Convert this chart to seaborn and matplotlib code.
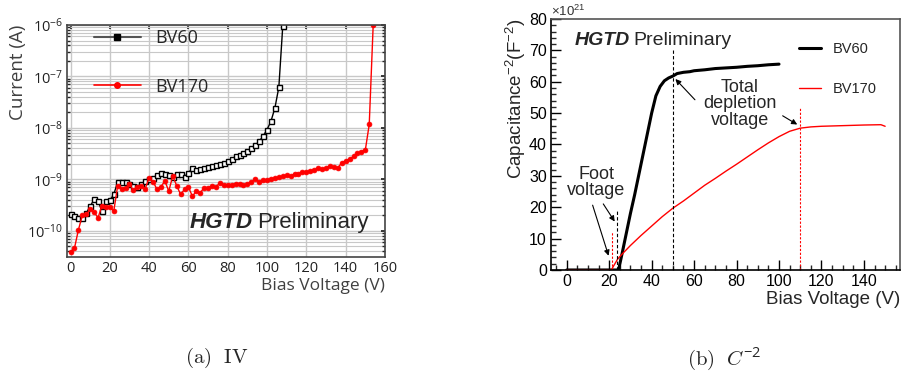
import matplotlib
matplotlib.use("Agg")
import matplotlib.pyplot as plt
from matplotlib.lines import Line2D
import numpy as np
import pandas as pd
import seaborn as sns

# IV data, step 2 V
bv60_iv_v = list(range(0, 110, 2))
bv60_iv_i = [2.1e-10, 1.9e-10, 1.8e-10, 1.75e-10, 2.2e-10, 3.0e-10, 4.1e-10, 3.8e-10, 2.4e-10, 3.8e-10,
             3.9e-10, 5.1e-10, 9.0e-10, 8.9e-10, 8.7e-10, 8.2e-10, 7.6e-10, 7.2e-10, 8.0e-10, 9.3e-10,
             1.0e-9, 1.08e-9, 1.2e-9, 1.35e-9, 1.3e-9, 1.2e-9, 1.12e-9, 1.25e-9, 1.25e-9, 1.12e-9,
             1.35e-9, 1.63e-9, 1.5e-9, 1.6e-9, 1.65e-9, 1.76e-9, 1.8e-9, 1.93e-9, 1.98e-9, 2.1e-9,
             2.3e-9, 2.5e-9, 2.8e-9, 3.0e-9, 3.3e-9, 3.55e-9, 4.0e-9, 4.6e-9, 5.5e-9, 6.9e-9,
             9.3e-9, 1.35e-8, 2.45e-8, 6.2e-8, 9.6e-7]
bv170_iv_v = list(range(0, 156, 2))
bv170_iv_i = [3.9e-11, 4.6e-11, 1.04e-10, 2.0e-10, 2.1e-10, 2.6e-10, 2.3e-10, 1.8e-10, 3.1e-10, 2.9e-10,
              2.9e-10, 2.4e-10, 7.6e-10, 6.6e-10, 6.9e-10, 8.0e-10, 6.1e-10, 7.2e-10, 7.4e-10, 6.6e-10,
              1.08e-9, 9.0e-10, 6.4e-10, 7.2e-10, 9.3e-10, 5.9e-10, 1.16e-9, 7.6e-10, 5.1e-10, 6.4e-10,
              7.1e-10, 4.7e-10, 5.9e-10, 5.5e-10, 6.9e-10, 6.9e-10, 7.4e-10, 7.1e-10, 8.6e-10, 7.8e-10,
              7.9e-10, 7.9e-10, 8.2e-10, 8.0e-10, 7.8e-10, 8.0e-10, 9.0e-10, 1.0e-9, 9.0e-10, 9.7e-10,
              9.7e-10, 1.03e-9, 1.06e-9, 1.1e-9, 1.14e-9, 1.2e-9, 1.15e-9, 1.29e-9, 1.3e-9, 1.39e-9,
              1.41e-9, 1.47e-9, 1.54e-9, 1.63e-9, 1.59e-9, 1.68e-9, 1.79e-9, 1.74e-9, 1.68e-9, 2.1e-9,
              2.3e-9, 2.5e-9, 2.8e-9, 3.2e-9, 3.45e-9, 3.7e-9, 1.17e-8, 9.8e-7]

# C^-2 data (units of 1e21 F^-2)
bv60_cv_v = [0, 5, 10, 15, 20, 24, 24.5, 26, 28, 30, 32, 34, 36, 38, 40, 42, 44, 46, 48, 50,
             52, 55, 58, 60, 65, 70, 75, 80, 85, 90, 95, 100]
bv60_cv_c = [0, 0, 0, 0, 0, 0, 0.3, 5, 11.5, 18, 24, 30.5, 37, 43.5, 50, 55.5, 58.5, 60.3, 61.2, 61.8,
             62.6, 63.0, 63.2, 63.5, 63.8, 64.2, 64.4, 64.6, 64.9, 65.1, 65.4, 65.6]
bv170_cv_v = [0, 5, 10, 15, 20, 21, 22, 24, 26, 30, 35, 40, 45, 50, 55, 60, 65, 70, 75, 80, 85, 90,
              95, 100, 105, 110, 115, 120, 130, 140, 148, 150]
bv170_cv_c = [0, 0, 0, 0, 0, 0, 1.2, 3.5, 5.0, 7.8, 11.0, 14.0, 17.0, 19.7, 22.0, 24.5, 27.0, 29.2,
              31.5, 33.7, 36.0, 38.3, 40.5, 42.5, 44.2, 45.2, 45.6, 45.8, 46.0, 46.2, 46.3, 45.8]

sns.set_theme(style="white")
plt.rcParams['font.family'] = ['Open Sans', 'DejaVu Sans']
plt.rcParams['mathtext.default'] = 'regular'

fig = plt.figure(figsize=(9.09, 3.91), dpi=100)

# ---------------- (a) IV ----------------
ax1 = fig.add_axes([0.0737, 0.3427, 0.3498, 0.5933])
ax1.set_yscale("log")
iv60 = pd.DataFrame({"v": bv60_iv_v, "i": bv60_iv_i})
iv170 = pd.DataFrame({"v": bv170_iv_v, "i": bv170_iv_i})
sns.lineplot(data=iv60, x="v", y="i", ax=ax1, color="black", lw=1.0, marker="s", markersize=3.6,
             markerfacecolor="white", markeredgecolor="black", markeredgewidth=1.0, legend=False)
sns.lineplot(data=iv170, x="v", y="i", ax=ax1, color="red", lw=1.0, marker="o", markersize=3.5,
             markeredgecolor="red", markeredgewidth=0.5, legend=False)
ax1.set_xlim(-1.8, 160)
ax1.set_ylim(3.1e-11, 1e-6)
ax1.set_xticks(range(0, 161, 20))
ax1.grid(True, which="major", color="#c8c8c8", lw=1.0)
ax1.grid(True, which="minor", axis="y", color="#c8c8c8", lw=0.8)
ax1.tick_params(axis="both", which="major", labelsize=10.5, colors="#222222", length=3, direction="in",
                top=True, right=True, pad=3)
ax1.tick_params(axis="y", which="minor", length=2, direction="in", right=True, left=True)
for s in ax1.spines.values():
    s.set_color("#444444")
    s.set_linewidth(1.2)
ax1.set_xlabel("Bias Voltage (V)", fontsize=12.5, color="#404040", loc="right", labelpad=1)
ax1.set_ylabel("Current (A)", fontsize=13.5, color="#404040", loc="top", labelpad=0)
handles = [Line2D([0], [0], color="#555555", lw=1.5, marker="s", markersize=4.5,
                  markerfacecolor="black", markeredgecolor="black"),
           Line2D([0], [0], color="red", lw=1.2, marker="o", markersize=4,
                  markerfacecolor="red", markeredgecolor="red")]
ax1.legend(handles, ["BV60", "BV170"], loc="upper left", bbox_to_anchor=(0.05, 1.03), frameon=False,
           fontsize=13, handlelength=2.6, labelspacing=1.7, borderaxespad=0.2, numpoints=1)
t1 = ax1.text(0.385, 0.15, "HGTD", transform=ax1.transAxes, fontsize=16, fontweight="bold",
              fontstyle="italic", family="Liberation Sans", va="center", ha="left")
ax1.annotate("Preliminary", xy=(1, 0.5), xycoords=t1, xytext=(3, 0), textcoords="offset points",
             fontsize=16, family="Liberation Sans", va="center", ha="left")

# ---------------- (b) C^-2 ----------------
rfont = ['Liberation Sans', 'DejaVu Sans']
ax2 = fig.add_axes([0.6062, 0.3095, 0.3839, 0.642])
cv60 = pd.DataFrame({"v": bv60_cv_v, "c": bv60_cv_c})
cv170 = pd.DataFrame({"v": bv170_cv_v, "c": bv170_cv_c})
sns.lineplot(data=cv60, x="v", y="c", ax=ax2, color="black", lw=2.2, label="BV60")
sns.lineplot(data=cv170, x="v", y="c", ax=ax2, color="red", lw=1.0, label="BV170")
ax2.set_xlim(-7.4, 157)
ax2.set_ylim(0, 80)
ax2.set_xticks(range(0, 141, 20))
ax2.set_yticks(range(0, 81, 10))
ax2.set_xticks(range(-5, 157, 5), minor=True)
ax2.set_yticks(range(0, 81, 2), minor=True)
ax2.tick_params(axis="both", which="major", direction="in", length=7, width=1, labelsize=11.5,
                colors="black", pad=3)
ax2.tick_params(axis="both", which="minor", direction="in", length=3.5, width=1)
ax2.tick_params(bottom=True, left=True)
ax2.tick_params(which="minor", bottom=True, left=True)
for lab in ax2.get_xticklabels() + ax2.get_yticklabels():
    lab.set_family(rfont)
for s in ax2.spines.values():
    s.set_color("#555555")
    s.set_linewidth(1.2)
ax2.spines["left"].set_color("black")
ax2.spines["bottom"].set_color("black")
ax2.set_xlabel("Bias Voltage (V)", fontsize=13.5, family=rfont, loc="right", labelpad=1)
ax2.set_ylabel("Capacitance$^{-2}$(F$^{-2}$)", fontsize=13.5, family=rfont, loc="top", labelpad=1)
ax2.text(0.0, 1.0, r"$\times$10$^{21}$", transform=ax2.transAxes, fontsize=9.5, family=rfont,
         va="bottom", ha="left", color="#333333")
ax2.legend(loc="upper right", bbox_to_anchor=(0.97, 0.96), frameon=False, prop={"family": rfont, "size": 10.5},
           handlelength=1.5, labelspacing=1.8)

ax2.plot([50, 50], [0, 70], ls=(0, (3, 2)), color="black", lw=0.8)
ax2.plot([110, 110], [0, 52], ls=(0, (2, 1.5)), color="red", lw=0.8)
ax2.plot([23.8, 23.8], [0, 19.5], ls=(0, (3, 2)), color="black", lw=0.8)
ax2.plot([21.2, 21.2], [0, 12.2], ls=(0, (2, 1.5)), color="red", lw=0.8)

t2 = ax2.text(3.5, 73, "HGTD", fontsize=14, fontweight="bold", fontstyle="italic", family=rfont,
              va="center", ha="left")
ax2.annotate("Preliminary", xy=(1, 0.5), xycoords=t2, xytext=(3, 0), textcoords="offset points",
             fontsize=14, family=rfont, va="center", ha="left")
ax2.text(13.8, 27.8, "Foot\nvoltage", fontsize=13, family=rfont, ha="center", va="center",
         linespacing=0.95)
ax2.text(81.5, 53, "Total\ndepletion\nvoltage", fontsize=13, family=rfont, ha="center",
         va="center", linespacing=0.95)
arr = dict(arrowstyle="-|>", color="black", lw=0.8, mutation_scale=8)
ax2.annotate("", xy=(20.1, 3.7), xytext=(11.8, 21.5), arrowprops=arr)
ax2.annotate("", xy=(23.3, 14.7), xytext=(16.5, 21.8), arrowprops=arr)
ax2.annotate("", xy=(50.3, 61.5), xytext=(61.3, 53.6), arrowprops=arr)
ax2.annotate("", xy=(109.7, 45.9), xytext=(100.6, 49.6), arrowprops=arr)

# captions
fig.text(0.238, 0.085, r"$\mathrm{(a)\ \ IV}$", fontsize=15, ha="center", va="center",
         math_fontfamily="cm")
fig.text(0.797, 0.085, r"$\mathrm{(b)}\ \ \mathit{C}^{-2}$", fontsize=15, ha="center",
         va="center", math_fontfamily="cm")

fig.savefig("out.png", dpi=100)
